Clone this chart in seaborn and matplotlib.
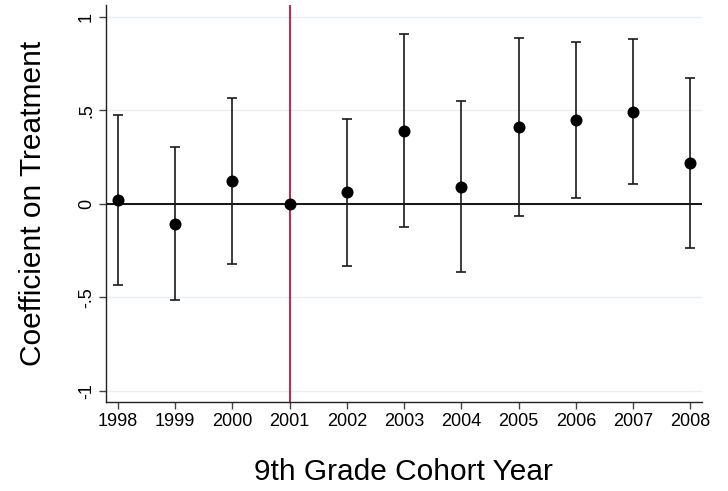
import numpy as np
import pandas as pd
import matplotlib
matplotlib.use("Agg")
import matplotlib.pyplot as plt
import seaborn as sns

# Coefficients by 9th grade cohort year
years = [1998, 1999, 2000, 2001, 2002, 2003, 2004, 2005, 2006, 2007, 2008]
coef = [0.021, -0.107, 0.121, 0.0, 0.061, 0.389, 0.089, 0.412, 0.448, 0.492, 0.218]
ci_upper = [0.476, 0.303, 0.567, 0.0, 0.455, 0.906, 0.548, 0.886, 0.863, 0.881, 0.672]
ci_lower = [-0.433, -0.513, -0.324, 0.0, -0.331, -0.125, -0.367, -0.064, 0.030, 0.104, -0.237]
ytick_vals = [-1, -0.5, 0, 0.5, 1]
ytick_labels = ["-1", "-.5", "0", ".5", "1"]

df = pd.DataFrame({"year": years, "coef": coef, "lo": ci_lower, "hi": ci_upper})

sns.set_style("white")
plt.rcParams["font.family"] = ["Liberation Sans", "DejaVu Sans"]
plt.rcParams["text.color"] = "black"
plt.rcParams["axes.labelcolor"] = "black"
plt.rcParams["xtick.color"] = "black"
plt.rcParams["ytick.color"] = "black"

fig = plt.figure(figsize=(7.28, 4.91), dpi=100)
ax = fig.add_axes([0.1456, 0.1813, 0.8183, 0.8085])

# light gridlines
for v in ytick_vals:
    ax.axhline(v, color="#e8eff2", lw=1.0, zorder=0)

ax.axhline(0, color="black", lw=1.3, zorder=1)
ax.axvline(2001, color="#c8102e", lw=1.3, zorder=1)

# confidence intervals (skip the omitted year)
bars = df[df["hi"] != df["lo"]]
ax.errorbar(bars["year"], bars["coef"],
            yerr=[bars["coef"] - bars["lo"], bars["hi"] - bars["coef"]],
            fmt="none", ecolor="#1a1a1a", elinewidth=1.2, capsize=3.5,
            capthick=1.2, zorder=2)

sns.scatterplot(data=df, x="year", y="coef", ax=ax, color="black",
                s=75, edgecolor="black", linewidth=0, zorder=3)

ax.set_xlim(1997.79, 2008.2)
ax.set_ylim(-1.06, 1.063)
ax.set_xticks(years)
ax.set_xticklabels([str(y) for y in years], fontsize=13)
ax.set_yticks(ytick_vals)
ax.set_yticklabels(ytick_labels, fontsize=13, rotation=90, va="center")

ax.tick_params(axis="both", direction="out", length=5, width=1,
               color="#444444", pad=3, left=True, bottom=True)

for s in ["top", "right"]:
    ax.spines[s].set_visible(False)
for s in ["left", "bottom"]:
    ax.spines[s].set_color("#222222")
    ax.spines[s].set_linewidth(1.0)

ax.set_xlabel("9th Grade Cohort Year", fontsize=21.5, labelpad=20)
ax.set_ylabel("Coefficient on Treatment", fontsize=21.5, labelpad=22)

fig.savefig("out.png", dpi=100)
